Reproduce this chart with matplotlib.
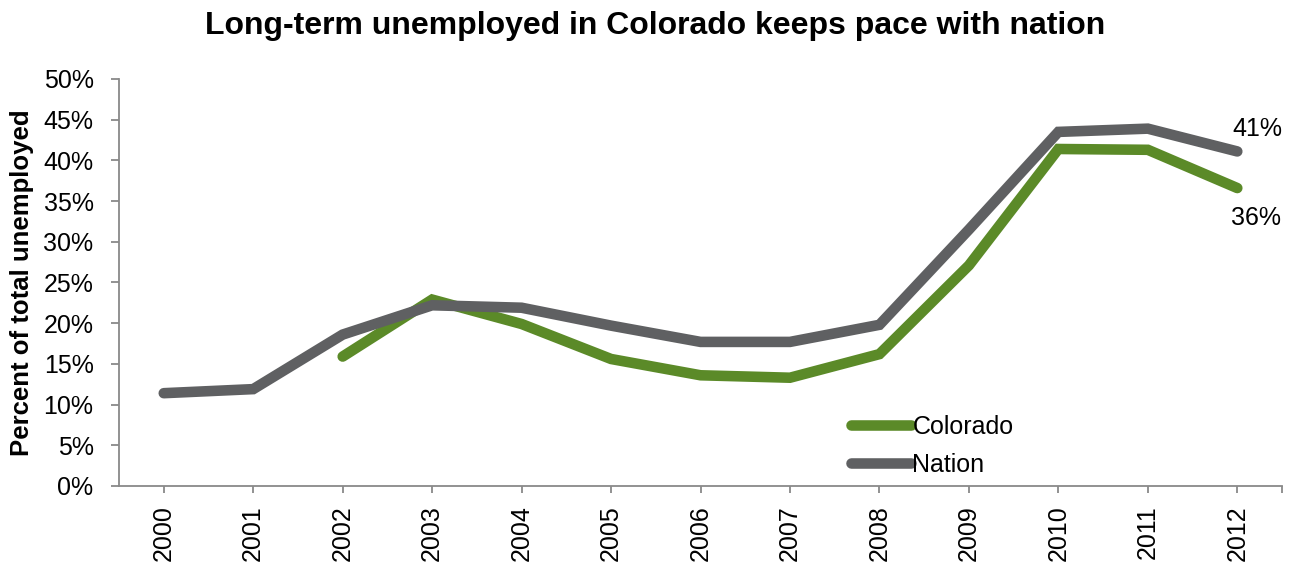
import matplotlib.pyplot as plt
import numpy as np

plt.rcParams['font.family'] = ['Liberation Sans', 'DejaVu Sans']

# long-term unemployed as share of all unemployed (%)
years = ['2000', '2001', '2002', '2003', '2004', '2005', '2006',
         '2007', '2008', '2009', '2010', '2011', '2012']
colorado = [np.nan, np.nan, 15.9, 22.9, 19.9, 15.6, 13.6, 13.3, 16.2, 27.1, 41.4, 41.3, 36.6]
nation = [11.4, 11.9, 18.6, 22.2, 21.9, 19.7, 17.7, 17.7, 19.8, 31.5, 43.5, 43.9, 41.1]

green = '#5b8a28'
grey = '#5f6062'
axis_col = '#898989'
fs = 18

fig = plt.figure(figsize=(12.98, 5.63), dpi=100)
ax = fig.add_axes([0.0917, 0.1368, 0.8960, 0.7229])

x = np.arange(len(years))
ax.plot(x, colorado, color=green, lw=7.6, solid_capstyle='round',
        solid_joinstyle='miter', label='Colorado')
ax.plot(x, nation, color=grey, lw=7.6, solid_capstyle='round',
        solid_joinstyle='miter', label='Nation')

# end-of-series labels
ax.annotate('41%', (x[-1], nation[-1]), xytext=(20, 22), textcoords='offset pixels',
            ha='center', va='center', fontsize=fs)
ax.annotate('36%', (x[-1], colorado[-1]), xytext=(19, -30), textcoords='offset pixels',
            ha='center', va='center', fontsize=fs)

ax.set_xlim(-0.5, len(years) - 0.5)
ax.set_ylim(0, 50)
ax.set_yticks(range(0, 51, 5))
ax.set_yticklabels([f'{v}%' for v in range(0, 51, 5)], fontsize=fs)
ax.set_xticks(x)
ax.set_xticklabels(years, rotation=90, fontsize=fs)
ax.set_xticks([len(years) - 0.5], minor=True)

for s in ['top', 'right']:
    ax.spines[s].set_visible(False)
for s in ['left', 'bottom']:
    ax.spines[s].set_color(axis_col)
    ax.spines[s].set_linewidth(1.3)
ax.tick_params(axis='both', which='both', color=axis_col, width=1.3)
ax.tick_params(axis='x', which='both', length=5, pad=9)
ax.tick_params(axis='y', length=5.8, pad=12.5)

ax.set_ylabel('Percent of total unemployed', fontsize=18.5, fontweight='bold', labelpad=7)
fig.suptitle('Long-term unemployed in Colorado keeps pace with nation',
             fontsize=23, fontweight='bold', x=0.505, y=0.98)

ax.legend(loc='upper left', bbox_to_anchor=(851 / 1298, 1 - 415 / 563),
          bbox_transform=fig.transFigure, frameon=False, fontsize=fs,
          handlelength=2.4, handletextpad=0.05, labelspacing=0.55,
          borderpad=0, borderaxespad=0)

fig.savefig('out.png', dpi=100)
